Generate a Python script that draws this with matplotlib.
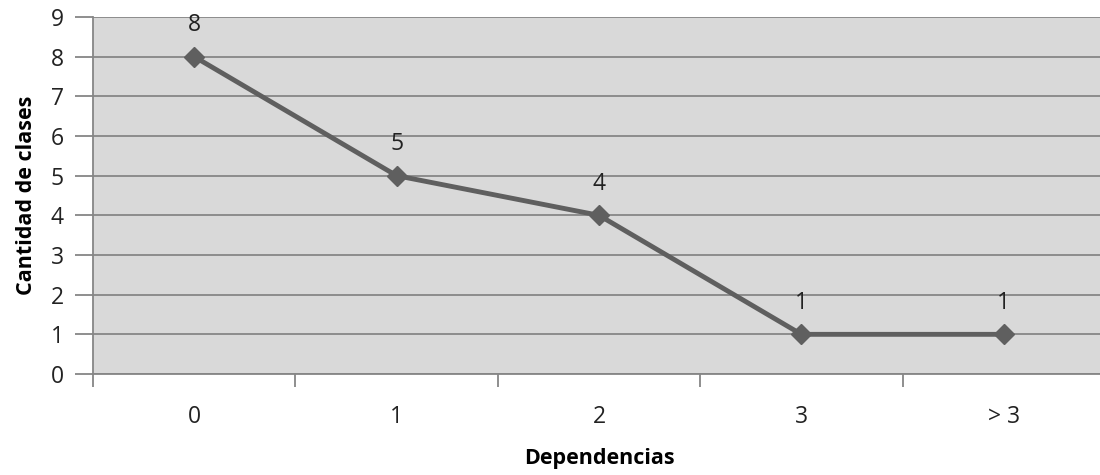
import matplotlib
matplotlib.use("Agg")
import matplotlib.pyplot as plt
import numpy as np

# datos
categorias = ['0', '1', '2', '3', '> 3']
cantidad = [8, 5, 4, 1, 1]

plt.rcParams['font.family'] = ['Open Sans', 'DejaVu Sans']

fig = plt.figure(figsize=(11, 4.75), dpi=100)
ax = fig.add_axes([93/1100, 101/475, 1012/1100, 357/475])
ax.set_facecolor('#d9d9d9')

x = np.arange(len(categorias)) + 0.5
ax.plot(x, cantidad, '-D', color='#5f5f5f', lw=3.5, ms=10, zorder=3)
for xi, v in zip(x, cantidad):
    ax.annotate(str(v), (xi, v), xytext=(0, 14), textcoords='offset points',
                ha='center', va='bottom', fontsize=16.5, color='#222222')

ax.set_xlim(0, len(categorias))
ax.set_ylim(0, 9)
ax.set_yticks(range(10))
ax.yaxis.grid(True, color='#868686', lw=1.3)
ax.set_axisbelow(True)

ax.set_xticks(np.arange(len(categorias) + 1))
ax.set_xticklabels([])
ax.set_xticks(x, minor=True)
ax.set_xticklabels(categorias, minor=True)
ax.tick_params(axis='x', which='major', length=9, color='#868686', width=1.3)
ax.tick_params(axis='x', which='minor', length=0, pad=22, labelsize=16.5, labelcolor='#222222')
ax.tick_params(axis='y', length=13, color='#868686', width=1.3, pad=8, labelsize=16.5, labelcolor='#222222')

for s in ['top', 'right']:
    ax.spines[s].set_visible(False)
for s in ['left', 'bottom']:
    ax.spines[s].set_color('#868686')
    ax.spines[s].set_linewidth(1.3)

ax.set_xlabel('Dependencias', fontsize=15.5, fontweight='bold', labelpad=14)
ax.set_ylabel('Cantidad de clases', fontsize=15.5, fontweight='bold', labelpad=10)

fig.savefig('out.png', dpi=100)
